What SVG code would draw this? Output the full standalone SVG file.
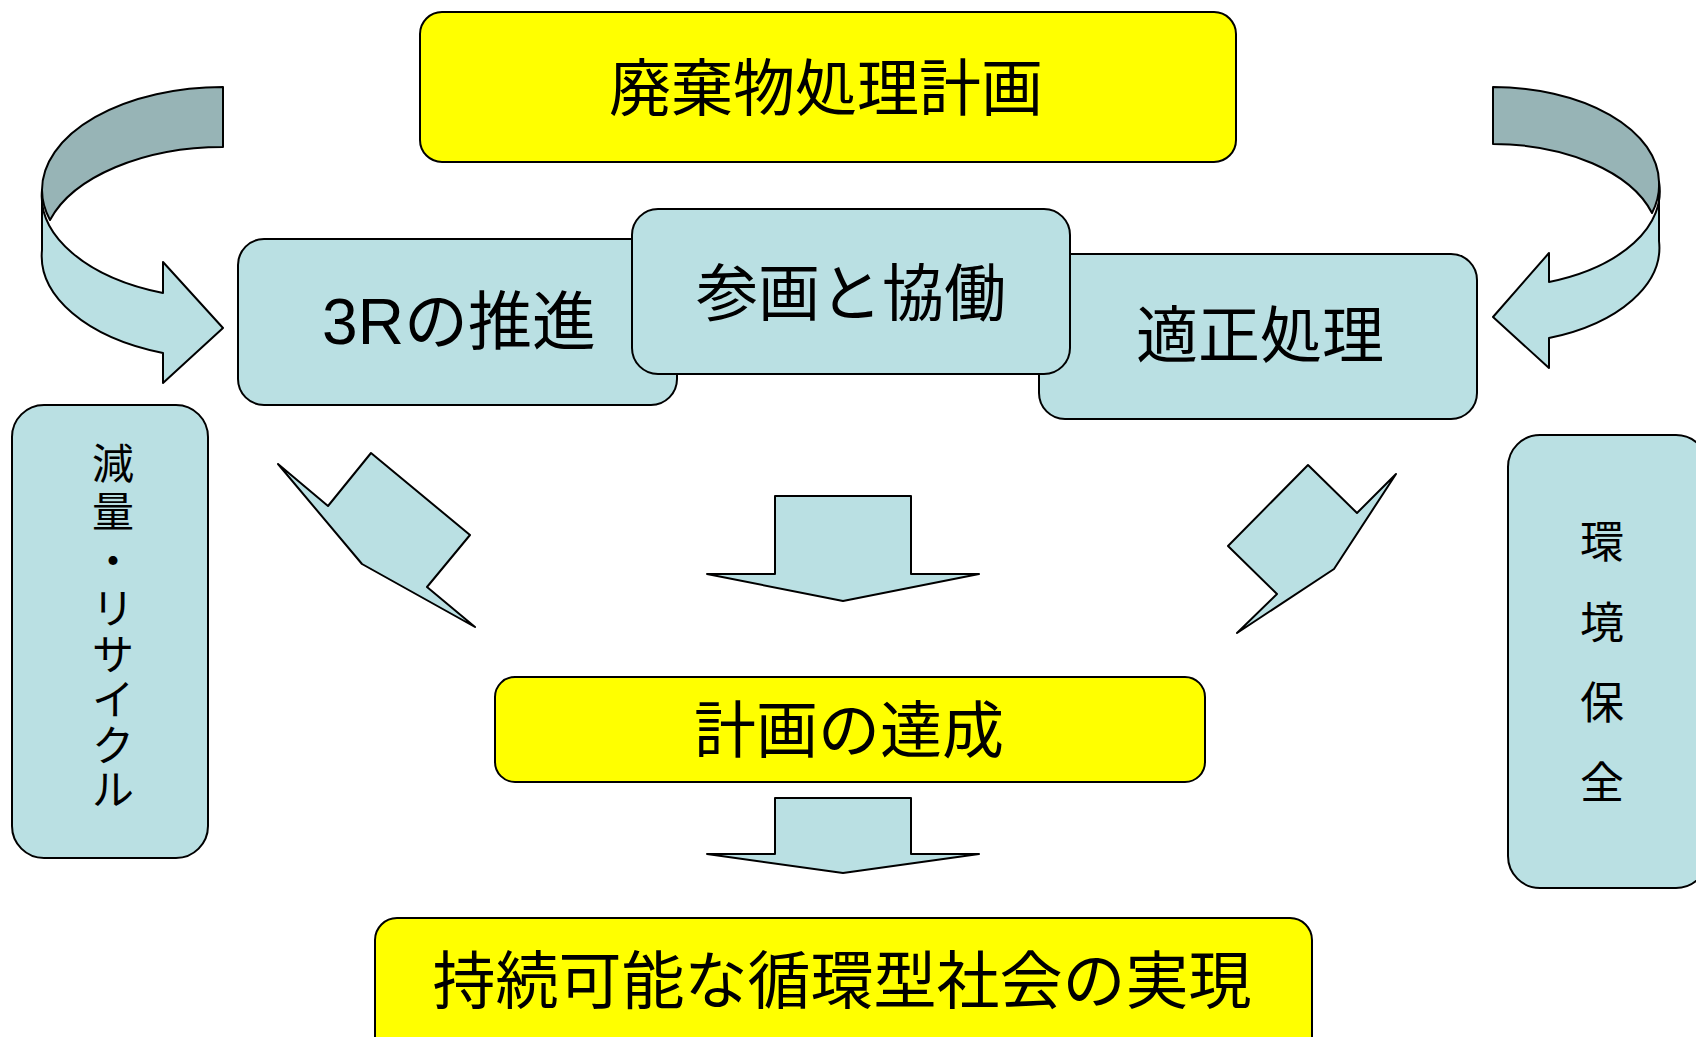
<svg xmlns="http://www.w3.org/2000/svg" width="1696" height="1037" viewBox="0 0 1696 1037">
<style>
.yel{fill:#FFFF00;stroke:#000;stroke-width:2}
.blu{fill:#BAE0E3;stroke:#000;stroke-width:2}
.drk{fill:#97B4B6;stroke:#000;stroke-width:2;stroke-linejoin:round}
.arr{fill:#BAE0E3;stroke:#000;stroke-width:2;stroke-linejoin:round}
.t{font-family:"Liberation Sans","Noto Sans CJK JP",sans-serif;fill:#000;text-anchor:middle;dominant-baseline:central}
.big{font-size:62px}
.v{font-size:42px}
</style>
<rect width="1696" height="1037" fill="#fff"/>
<g id="connectors">
  <g id="curved-left">
    <path class="drk" d="M223,87 A181,103 0 0 0 42,190 A181,103 0 0 0 50,220 A181,103 0 0 1 223,147 Z"/>
    <path class="arr" d="M42,190 L42,250 A181,103 0 0 0 163,353 L163,383 L223,328 L163,262 L163,293 A181,103 0 0 1 42,190 Z"/>
  </g>
  <g id="curved-right">
    <path class="drk" d="M1493,87 A166,96 0 0 1 1659,182 A166,96 0 0 1 1652,213 A166,96 0 0 0 1493,144 Z"/>
    <path class="arr" d="M1659,182 L1659,241 A166,96 0 0 1 1549,338 L1549,368 L1493,317 L1549,253 L1549,282 A166,96 0 0 0 1659,182 Z"/>
  </g>
  <polygon id="diag-left" class="arr" points="278,464 328,506 371,453 470,535 427,587 475,627 362,564"/>
  <polygon id="diag-right" class="arr" points="1228,546 1308,465 1357,513 1396,474 1334,569 1237,633 1277,594"/>
  <polygon id="down-1" class="arr" points="775,496 911,496 911,574 979,574 843,601 707,574 775,574"/>
  <polygon id="down-2" class="arr" points="775,798 911,798 911,854 979,854 843,873 707,854 775,854"/>
</g>
<g id="node-plan">
  <rect class="yel" x="420" y="12" width="816" height="150" rx="22"/>
  <text class="t big" x="826" y="89">廃棄物処理計画</text>
</g>
<g id="node-3r">
  <rect class="blu" x="238" y="239" width="439" height="166" rx="26"/>
  <text class="t" style="font-size:64px" x="459" y="322">3Rの推進</text>
</g>
<g id="node-proper">
  <rect class="blu" x="1039" y="254" width="438" height="165" rx="26"/>
  <text class="t big" x="1260" y="336">適正処理</text>
</g>
<g id="node-participation">
  <rect class="blu" x="632" y="209" width="438" height="165" rx="26"/>
  <text class="t big" x="851" y="294">参画と協働</text>
</g>
<g id="node-reduce">
  <rect class="blu" x="12" y="405" width="196" height="453" rx="32"/>
  <text class="t v"><tspan x="113" y="464">減</tspan><tspan x="113" y="512">量</tspan><tspan x="113" y="561">・</tspan><tspan x="113" y="609">リ</tspan><tspan x="113" y="655">サ</tspan><tspan x="113" y="700">イ</tspan><tspan x="113" y="746">ク</tspan><tspan x="113" y="790">ル</tspan></text>
</g>
<g id="node-env">
  <rect class="blu" x="1508" y="435" width="200" height="453" rx="32"/>
  <text class="t" style="font-size:44px"><tspan x="1602" y="542">環</tspan><tspan x="1602" y="623">境</tspan><tspan x="1602" y="703">保</tspan><tspan x="1602" y="783">全</tspan></text>
</g>
<g id="node-achieve">
  <rect class="yel" x="495" y="677" width="710" height="105" rx="20"/>
  <text class="t big" x="849" y="731">計画の達成</text>
</g>
<g id="node-society">
  <rect class="yel" x="375" y="918" width="937" height="150" rx="22"/>
  <text class="t" style="font-size:63px" x="842" y="981">持続可能な循環型社会の実現</text>
</g>
</svg>
